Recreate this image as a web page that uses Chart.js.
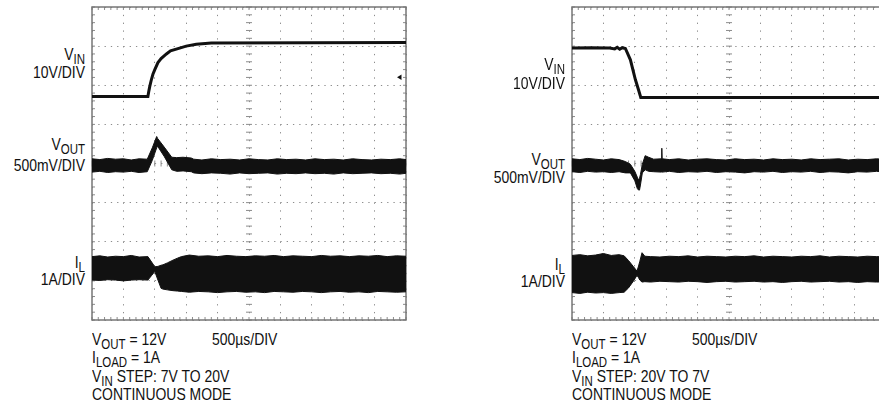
<!DOCTYPE html>
<html>
<head>
<meta charset="utf-8">
<script src="https://cdn.jsdelivr.net/npm/chart.js@4"></script>
<style>
body { margin: 0; background: #fff; }
#page { position: relative; width: 879px; height: 409px; overflow: hidden; background: #fff;
  font-family: "Liberation Sans", Arial, sans-serif; font-size: 17px; color: #111; }
canvas { position: absolute; }
.t { position: absolute; line-height: 17px; white-space: nowrap; transform: scaleX(0.82); transform-origin: left top; }
.r { width: 100px; text-align: right; transform-origin: right top; }
.s { font-size: 14px; position: relative; top: 4px; }
</style>
</head>
<body>
<div id="page">
  <canvas id="scopeLeft" width="322" height="321" style="left:88px;top:3px"></canvas>
  <canvas id="scopeRight" width="322" height="321" style="left:568px;top:3px"></canvas>

  <div class="t r" style="left:-15px;top:46px">V<span class="s">IN</span></div>
  <div class="t r" style="left:-15px;top:64px">10V/DIV</div>
  <div class="t r" style="left:-15px;top:136px">V<span class="s">OUT</span></div>
  <div class="t r" style="left:-15px;top:157px">500mV/DIV</div>
  <div class="t r" style="left:-15px;top:254px">I<span class="s">L</span></div>
  <div class="t r" style="left:-15px;top:271px">1A/DIV</div>
  <div class="t" style="left:397px;top:68px;font-size:11px">&#9666;</div>

  <div class="t" style="left:92px;top:331px">V<span class="s">OUT</span> = 12V</div>
  <div class="t" style="left:212px;top:331px">500µs/DIV</div>
  <div class="t" style="left:92px;top:349px">I<span class="s">LOAD</span> = 1A</div>
  <div class="t" style="left:92px;top:368px">V<span class="s">IN</span> STEP: 7V TO 20V</div>
  <div class="t" style="left:92px;top:386px">CONTINUOUS MODE</div>

  <div class="t r" style="left:465px;top:56px">V<span class="s">IN</span></div>
  <div class="t r" style="left:465px;top:75px">10V/DIV</div>
  <div class="t r" style="left:465px;top:151px">V<span class="s">OUT</span></div>
  <div class="t r" style="left:465px;top:169px">500mV/DIV</div>
  <div class="t r" style="left:465px;top:256px">I<span class="s">L</span></div>
  <div class="t r" style="left:465px;top:273px">1A/DIV</div>

  <div class="t" style="left:572px;top:331px">V<span class="s">OUT</span> = 12V</div>
  <div class="t" style="left:692px;top:331px">500µs/DIV</div>
  <div class="t" style="left:572px;top:349px">I<span class="s">LOAD</span> = 1A</div>
  <div class="t" style="left:572px;top:368px">V<span class="s">IN</span> STEP: 20V TO 7V</div>
  <div class="t" style="left:572px;top:386px">CONTINUOUS MODE</div>
</div>
<script>
// time in µs (500µs/DIV, 10 DIV), trace levels in screen divisions (0 = bottom, 8 = top)

// left scope: VIN step 7V -> 20V
const leftVinT = [0, 890, 905, 920, 945, 970, 1000, 1050, 1100, 1185, 1250, 1395, 1500, 1660, 1900, 5000];
const leftVinY = [5.71, 5.71, 5.85, 5.97, 6.14, 6.28, 6.40, 6.58, 6.68, 6.80, 6.88, 6.95, 7.00, 7.05, 7.08, 7.09];

const leftVoutT = [0, 125, 250, 375, 500, 625, 750, 880, 960, 1030, 1045, 1150, 1270, 1350, 1450, 1580, 1620,
  1750, 1900, 2050, 2200, 2350, 2500, 2650, 2800, 2950, 3100, 3250, 3400, 3550, 3700, 3850, 4000, 4150, 4300,
  4450, 4600, 4750, 4900, 5000];
const leftVoutHi = [4.12, 4.10, 4.13, 4.11, 4.12, 4.09, 4.12, 4.11, 4.40, 4.69, 4.64, 4.42, 4.16, 4.15, 4.16, 4.14, 4.11,
  4.09, 4.12, 4.10, 4.11, 4.09, 4.12, 4.10, 4.09, 4.12, 4.10, 4.11, 4.09, 4.12, 4.10, 4.11, 4.09, 4.12, 4.10,
  4.09, 4.11, 4.10, 4.12, 4.10];
const leftVoutLo = [3.78, 3.80, 3.77, 3.79, 3.78, 3.80, 3.77, 3.79, 4.08, 4.40, 4.44, 4.18, 3.84, 3.80, 3.81, 3.79, 3.76,
  3.74, 3.76, 3.75, 3.73, 3.76, 3.74, 3.75, 3.76, 3.73, 3.75, 3.74, 3.76, 3.74, 3.75, 3.73, 3.76, 3.74, 3.75,
  3.76, 3.74, 3.75, 3.73, 3.75];

const leftIlT = [0, 125, 250, 375, 500, 625, 750, 890, 950, 1000, 1050, 1100, 1130, 1200, 1290, 1360, 1425,
  1550, 1700, 1850, 2000, 2150, 2300, 2450, 2600, 2750, 2900, 3050, 3200, 3350, 3500, 3650, 3800, 3950, 4100,
  4250, 4400, 4550, 4700, 4850, 5000];
const leftIlHi = [1.62, 1.64, 1.61, 1.63, 1.62, 1.65, 1.61, 1.62, 1.48, 1.36, 1.37, 1.40, 1.41, 1.46, 1.53, 1.58, 1.62,
  1.66, 1.63, 1.64, 1.62, 1.65, 1.63, 1.62, 1.64, 1.63, 1.65, 1.62, 1.64, 1.63, 1.62, 1.65, 1.63, 1.64, 1.62,
  1.64, 1.63, 1.65, 1.62, 1.64, 1.63];
const leftIlLo = [1.02, 1.01, 1.03, 1.02, 1.00, 1.02, 1.03, 1.02, 1.14, 1.24, 1.02, 0.81, 0.79, 0.77, 0.75, 0.74, 0.73,
  0.71, 0.73, 0.72, 0.70, 0.72, 0.73, 0.71, 0.72, 0.70, 0.73, 0.72, 0.71, 0.73, 0.72, 0.70, 0.72, 0.73, 0.71,
  0.72, 0.70, 0.73, 0.72, 0.71, 0.72];

// right scope: VIN step 20V -> 7V
const rightVinT = [0, 300, 600, 680, 720, 760, 800, 850, 930, 1010, 1060, 1095, 1120, 5000];
const rightVinY = [6.95, 6.96, 6.95, 6.93, 6.97, 6.92, 6.96, 6.94, 6.65, 6.14, 5.88, 5.69, 5.69, 5.69];

const rightVoutT = [0, 125, 250, 375, 500, 625, 750, 850, 930, 1000, 1040, 1060, 1075, 1090, 1120, 1165, 1220,
  1300, 1425, 1430, 1435, 1550, 1700, 1850, 2000, 2150, 2300, 2450, 2600, 2750, 2900, 3050, 3200, 3350, 3500,
  3650, 3800, 3950, 4100, 4250, 4400, 4550, 4700, 4850, 5000];
const rightVoutHi = [4.12, 4.10, 4.13, 4.11, 4.09, 4.12, 4.10, 4.05, 3.98, 3.80, 3.65, 3.58, 3.62, 3.72, 3.98, 4.20, 4.16,
  4.11, 4.12, 4.39, 4.12, 4.10, 4.12, 4.09, 4.11, 4.12, 4.10, 4.09, 4.12, 4.10, 4.11, 4.09, 4.12, 4.10, 4.11,
  4.09, 4.12, 4.10, 4.11, 4.12, 4.09, 4.11, 4.10, 4.12, 4.10];
const rightVoutLo = [3.79, 3.77, 3.80, 3.78, 3.79, 3.77, 3.79, 3.76, 3.76, 3.56, 3.36, 3.32, 3.32, 3.45, 3.76, 3.84, 3.80,
  3.79, 3.78, 3.79, 3.78, 3.80, 3.77, 3.79, 3.78, 3.80, 3.77, 3.79, 3.78, 3.76, 3.79, 3.78, 3.80, 3.77, 3.79,
  3.78, 3.80, 3.77, 3.79, 3.78, 3.76, 3.79, 3.78, 3.80, 3.78];

const rightIlT = [0, 125, 250, 375, 500, 625, 750, 830, 900, 980, 1035, 1060, 1080, 1115, 1160, 1250,
  1400, 1550, 1700, 1850, 2000, 2150, 2300, 2450, 2600, 2750, 2900, 3050, 3200, 3350, 3500, 3650, 3800, 3950,
  4100, 4250, 4400, 4550, 4700, 4850, 5000];
const rightIlHi = [1.65, 1.67, 1.64, 1.66, 1.70, 1.65, 1.67, 1.64, 1.52, 1.36, 1.25, 1.38, 1.50, 1.72, 1.63, 1.62,
  1.61, 1.63, 1.62, 1.64, 1.61, 1.63, 1.62, 1.61, 1.63, 1.62, 1.64, 1.61, 1.63, 1.62, 1.61, 1.63, 1.62, 1.64,
  1.61, 1.63, 1.62, 1.61, 1.63, 1.62, 1.61];
const rightIlLo = [0.70, 0.68, 0.71, 0.69, 0.70, 0.68, 0.70, 0.71, 0.82, 1.00, 1.14, 1.08, 1.02, 0.97, 0.98, 0.97,
  0.99, 0.98, 0.97, 0.99, 0.98, 0.96, 0.98, 0.99, 0.97, 0.98, 0.99, 0.97, 0.98, 0.96, 0.98, 0.99, 0.97, 0.98,
  0.99, 0.97, 0.98, 0.96, 0.98, 0.97, 0.98];

const TRACE = '#111';
const pts = (t, v) => t.map((x, i) => ({ x: x, y: v[i] }));

function line(t, v) {
  return { data: pts(t, v), borderColor: TRACE, borderWidth: 3, pointRadius: 0, fill: false };
}
// noisy traces are drawn as a filled band between two envelopes
function band(t, hi, lo) {
  return [
    { data: pts(t, hi), borderColor: TRACE, borderWidth: 1, pointRadius: 0, fill: false },
    { data: pts(t, lo), borderColor: TRACE, borderWidth: 1, pointRadius: 0, fill: '-1', backgroundColor: TRACE }
  ];
}

// frame, minor ticks on the border and on the centre cross
const scopeFrame = {
  id: 'scopeFrame',
  beforeDatasetsDraw(chart) {
    const { ctx, chartArea: a, scales: { x, y } } = chart;
    const cx = x.getPixelForValue(2500), cy = y.getPixelForValue(4);
    ctx.save();
    ctx.strokeStyle = '#8c8c8c';
    ctx.lineWidth = 1;
    ctx.beginPath();
    for (let i = 0; i <= 50; i++) {
      const px = x.getPixelForValue(i * 100);
      ctx.moveTo(px, a.top); ctx.lineTo(px, a.top + 3);
      ctx.moveTo(px, a.bottom); ctx.lineTo(px, a.bottom - 3);
      ctx.moveTo(px, cy - 3); ctx.lineTo(px, cy + 3);
    }
    for (let i = 0; i <= 40; i++) {
      const py = y.getPixelForValue(i / 5);
      ctx.moveTo(a.left, py); ctx.lineTo(a.left + 3, py);
      ctx.moveTo(a.right, py); ctx.lineTo(a.right - 3, py);
      ctx.moveTo(cx - 3, py); ctx.lineTo(cx + 3, py);
    }
    ctx.stroke();
    ctx.lineWidth = 1.5;
    ctx.strokeStyle = '#777';
    ctx.strokeRect(a.left, a.top, a.width, a.height);
    ctx.restore();
  }
};

function scope(id, datasets) {
  return new Chart(document.getElementById(id), {
    type: 'line',
    data: { datasets: datasets },
    options: {
      responsive: false,
      animation: false,
      layout: { padding: 4 },
      plugins: { legend: { display: false }, tooltip: { enabled: false } },
      elements: { line: { tension: 0 } },
      scales: {
        x: {
          type: 'linear', min: 0, max: 5000,
          ticks: { display: false, stepSize: 500 },
          grid: { color: '#8c8c8c', lineWidth: 1, drawTicks: false },
          border: { display: false, dash: [1.3, 6.52] },
          afterFit: s => { s.height = 0; }
        },
        y: {
          min: 0, max: 8,
          ticks: { display: false, stepSize: 1 },
          grid: { color: '#8c8c8c', lineWidth: 1, drawTicks: false },
          border: { display: false, dash: [1.3, 4.98] },
          afterFit: s => { s.width = 0; }
        }
      }
    },
    plugins: [scopeFrame]
  });
}

scope('scopeLeft', [line(leftVinT, leftVinY), ...band(leftVoutT, leftVoutHi, leftVoutLo), ...band(leftIlT, leftIlHi, leftIlLo)]);
scope('scopeRight', [line(rightVinT, rightVinY), ...band(rightVoutT, rightVoutHi, rightVoutLo), ...band(rightIlT, rightIlHi, rightIlLo)]);
</script>
</body>
</html>
